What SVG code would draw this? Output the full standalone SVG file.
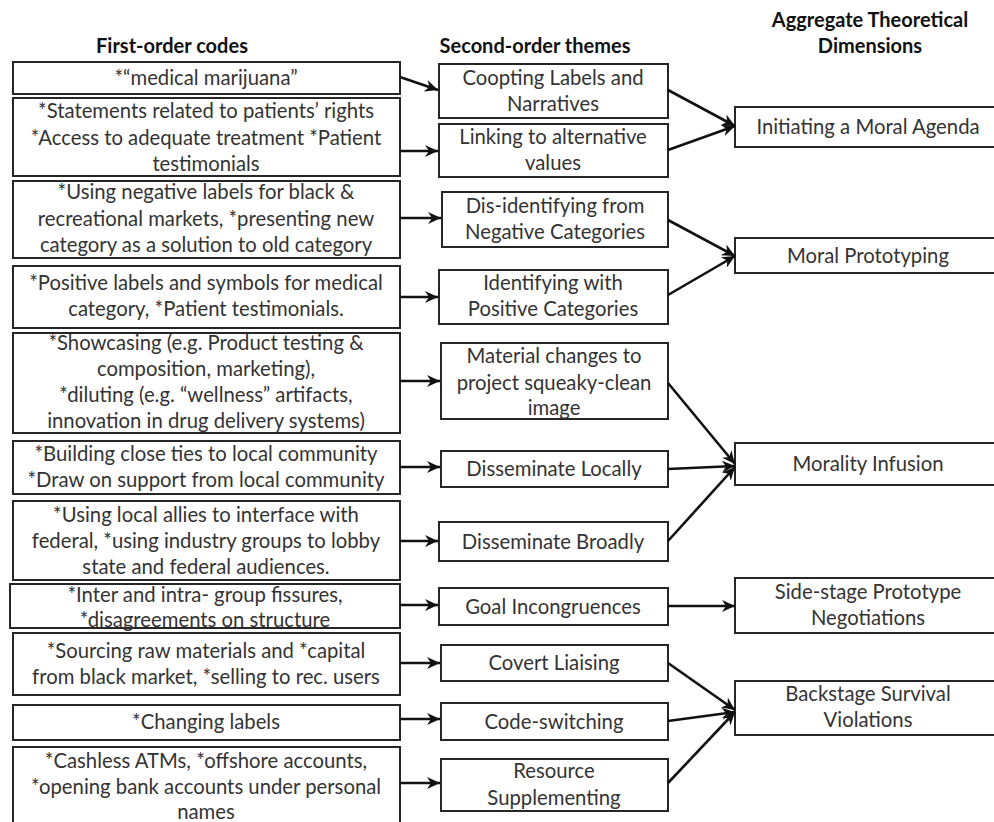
<svg xmlns="http://www.w3.org/2000/svg" width="994" height="822" viewBox="0 0 994 822">
<defs>
<style>
.box{fill:#fff;stroke:#262626;stroke-width:2}
.t{font-family:Lato,"Open Sans","Liberation Sans",sans-serif;font-size:20.3px;fill:#333;text-anchor:middle}
.h{font-family:Lato,"Open Sans","Liberation Sans",sans-serif;font-size:20px;font-weight:bold;fill:#111;text-anchor:middle}
.c{stroke:#111;stroke-width:2.6;fill:none;marker-end:url(#ah)}
</style>
<marker id="ah" markerUnits="userSpaceOnUse" markerWidth="14" markerHeight="14" refX="13" refY="7" orient="auto">
<path d="M0,1 L13,7 L0,13 L4,7 z" fill="#111"/>
</marker>
</defs>
<rect width="994" height="822" fill="#fff"/>
<g id="headers">
<text class="h" x="172" y="53">First-order codes</text>
<text class="h" x="535" y="53">Second-order themes</text>
<text class="h" x="870" y="27">Aggregate Theoretical</text>
<text class="h" x="870" y="53">Dimensions</text>
</g>
<g id="f1"><rect class="box" x="13" y="62" width="387" height="32"/><text class="t" x="206" y="85">*“medical marijuana”</text></g>
<g id="f2"><rect class="box" x="13" y="98" width="387" height="78"/><text class="t" x="206" y="118">*Statements related to patients’ rights</text><text class="t" x="206" y="145">*Access to adequate treatment *Patient</text><text class="t" x="206" y="171">testimonials</text></g>
<g id="f3"><rect class="box" x="13" y="181" width="387" height="77"/><text class="t" x="206" y="199">*Using negative labels for black &amp;</text><text class="t" x="206" y="226">recreational markets, *presenting new</text><text class="t" x="206" y="252">category as a solution to old category</text></g>
<g id="f4"><rect class="box" x="13" y="266" width="387" height="62"/><text class="t" x="206" y="290">*Positive labels and symbols for medical</text><text class="t" x="206" y="316">category, *Patient testimonials.</text></g>
<g id="f5"><rect class="box" x="13" y="333" width="387" height="100"/><text class="t" x="206" y="350">*Showcasing (e.g. Product testing &amp;</text><text class="t" x="206" y="376">composition, marketing),</text><text class="t" x="206" y="402">*diluting (e.g. “wellness” artifacts,</text><text class="t" x="206" y="428">innovation in drug delivery systems)</text></g>
<g id="f6"><rect class="box" x="13" y="441" width="387" height="53"/><text class="t" x="206" y="461">*Building close ties to local community</text><text class="t" x="206" y="487">*Draw on support from local community</text></g>
<g id="f7"><rect class="box" x="13" y="501" width="387" height="79"/><text class="t" x="206" y="522">*Using local allies to interface with</text><text class="t" x="206" y="548">federal, *using industry groups to lobby</text><text class="t" x="206" y="574">state and federal audiences.</text></g>
<g id="f8"><rect class="box" x="10" y="584" width="390" height="44"/><text class="t" x="205" y="602">*Inter and intra- group fissures,</text><text class="t" x="205" y="627">*disagreements on structure</text></g>
<g id="f9"><rect class="box" x="13" y="633" width="387" height="62"/><text class="t" x="206" y="658">*Sourcing raw materials and *capital</text><text class="t" x="206" y="684">from black market, *selling to rec. users</text></g>
<g id="f10"><rect class="box" x="13" y="705" width="387" height="35"/><text class="t" x="206" y="729">*Changing labels</text></g>
<g id="f11"><rect class="box" x="13" y="747" width="387" height="80"/><text class="t" x="206" y="768">*Cashless ATMs, *offshore accounts,</text><text class="t" x="206" y="794">*opening bank accounts under personal</text><text class="t" x="206" y="819">names</text></g>
<g id="s1"><rect class="box" x="439" y="64" width="229" height="54"/><text class="t" x="553" y="85">Coopting Labels and</text><text class="t" x="553" y="111">Narratives</text></g>
<g id="s2"><rect class="box" x="439" y="124" width="229" height="53"/><text class="t" x="553" y="144">Linking to alternative</text><text class="t" x="553" y="170">values</text></g>
<g id="s3"><rect class="box" x="442" y="192" width="226" height="55"/><text class="t" x="555" y="213">Dis-identifying from</text><text class="t" x="555" y="239">Negative Categories</text></g>
<g id="s4"><rect class="box" x="439" y="270" width="229" height="54"/><text class="t" x="553" y="290">Identifying with</text><text class="t" x="553" y="316">Positive Categories</text></g>
<g id="s5"><rect class="box" x="441" y="343" width="227" height="76"/><text class="t" x="554" y="363">Material changes to</text><text class="t" x="554" y="390">project squeaky-clean</text><text class="t" x="554" y="415">image</text></g>
<g id="s6"><rect class="box" x="441" y="451" width="227" height="36"/><text class="t" x="554" y="476">Disseminate Locally</text></g>
<g id="s7"><rect class="box" x="439" y="522" width="229" height="39"/><text class="t" x="553" y="549">Disseminate Broadly</text></g>
<g id="s8"><rect class="box" x="439" y="588" width="229" height="37"/><text class="t" x="553" y="614">Goal Incongruences</text></g>
<g id="s9"><rect class="box" x="441" y="645" width="227" height="36"/><text class="t" x="554" y="670">Covert Liaising</text></g>
<g id="s10"><rect class="box" x="441" y="703" width="227" height="37"/><text class="t" x="554" y="729">Code-switching</text></g>
<g id="s11"><rect class="box" x="441" y="759" width="227" height="52"/><text class="t" x="554" y="778">Resource</text><text class="t" x="554" y="805">Supplementing</text></g>
<g id="a1"><rect class="box" x="735" y="107" width="266" height="40"/><text class="t" x="868" y="134">Initiating a Moral Agenda</text></g>
<g id="a2"><rect class="box" x="735" y="238" width="266" height="35"/><text class="t" x="868" y="263">Moral Prototyping</text></g>
<g id="a3"><rect class="box" x="735" y="443" width="266" height="42"/><text class="t" x="868" y="471">Morality Infusion</text></g>
<g id="a4"><rect class="box" x="735" y="578" width="266" height="55"/><text class="t" x="868" y="599">Side-stage Prototype</text><text class="t" x="868" y="625">Negotiations</text></g>
<g id="a5"><rect class="box" x="735" y="681" width="266" height="54"/><text class="t" x="868" y="701">Backstage Survival</text><text class="t" x="868" y="727">Violations</text></g>
<g id="connectors">
<line class="c" x1="400" y1="77" x2="438" y2="90"/>
<line class="c" x1="400" y1="151" x2="438" y2="151"/>
<line class="c" x1="400" y1="218" x2="441" y2="218"/>
<line class="c" x1="400" y1="297" x2="438" y2="297"/>
<line class="c" x1="400" y1="381" x2="440" y2="381"/>
<line class="c" x1="400" y1="467" x2="440" y2="467"/>
<line class="c" x1="400" y1="541" x2="438" y2="541"/>
<line class="c" x1="400" y1="605" x2="438" y2="605"/>
<line class="c" x1="400" y1="663" x2="440" y2="663"/>
<line class="c" x1="400" y1="719" x2="440" y2="719"/>
<line class="c" x1="400" y1="783" x2="440" y2="783"/>
<line class="c" x1="668" y1="90" x2="735" y2="126"/>
<line class="c" x1="668" y1="150" x2="735" y2="126"/>
<line class="c" x1="668" y1="220" x2="735" y2="256"/>
<line class="c" x1="668" y1="295" x2="735" y2="256"/>
<line class="c" x1="668" y1="383" x2="735" y2="464"/>
<line class="c" x1="668" y1="469" x2="735" y2="466"/>
<line class="c" x1="668" y1="541" x2="735" y2="467"/>
<line class="c" x1="668" y1="606" x2="735" y2="606"/>
<line class="c" x1="668" y1="663" x2="735" y2="710"/>
<line class="c" x1="668" y1="721" x2="735" y2="712"/>
<line class="c" x1="668" y1="783" x2="735" y2="712"/>
</g>
</svg>
